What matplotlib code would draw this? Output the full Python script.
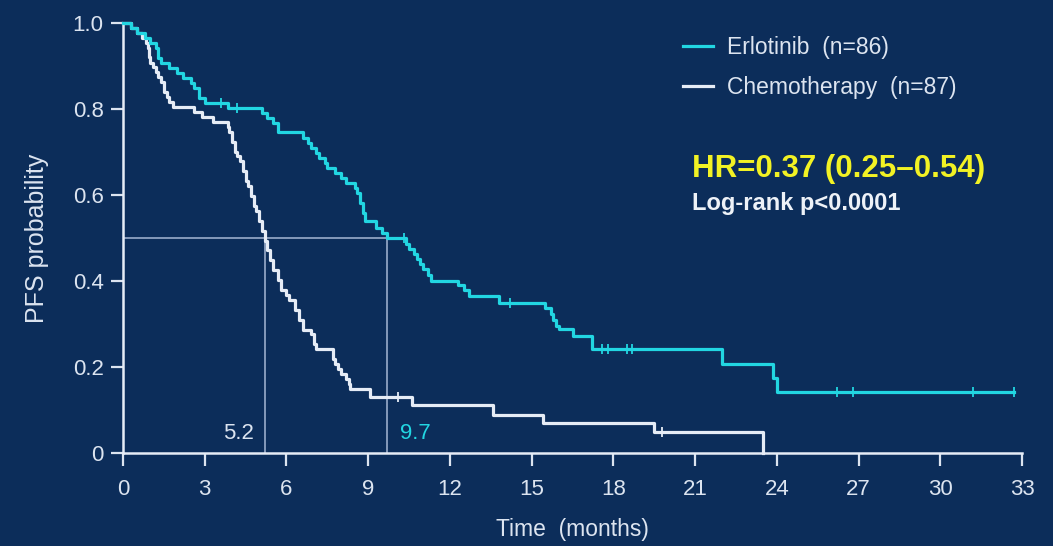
import numpy as np
import matplotlib
matplotlib.use("Agg")
import matplotlib.pyplot as plt

# Kaplan-Meier steps (months, PFS after the drop)
erl_times = [0.0, 0.3, 0.5, 0.8, 1.0, 1.2, 1.3, 1.4, 1.7, 2.0, 2.2, 2.5, 2.6, 2.8, 3.0, 3.85,
             5.1, 5.3, 5.5, 5.7, 6.6, 6.8, 6.9, 7.1, 7.2, 7.4, 7.5, 7.8, 8.0, 8.2, 8.5, 8.6,
             8.7, 8.8, 8.9, 9.3, 9.5, 9.7, 10.4, 10.5, 10.7, 10.8, 10.9, 11.0, 11.2, 11.3,
             12.3, 12.5, 12.7, 13.8, 15.5, 15.7, 15.8, 15.9, 16.0, 16.5, 17.2, 22.0, 23.85,
             24.0, 32.7]
erl_surv = [1.0, 0.988, 0.977, 0.965, 0.953, 0.942, 0.918, 0.907, 0.895, 0.884, 0.872, 0.860,
            0.849, 0.826, 0.814, 0.802, 0.790, 0.779, 0.767, 0.746, 0.733, 0.721, 0.709, 0.698,
            0.686, 0.674, 0.663, 0.651, 0.640, 0.628, 0.616, 0.605, 0.581, 0.558, 0.540, 0.523,
            0.511, 0.499, 0.487, 0.475, 0.463, 0.451, 0.439, 0.427, 0.415, 0.400, 0.390, 0.378,
            0.364, 0.350, 0.338, 0.324, 0.310, 0.296, 0.288, 0.272, 0.242, 0.208, 0.175, 0.142,
            0.142]
erl_cens = [3.6, 4.2, 10.3, 14.2, 17.6, 17.8, 18.5, 18.7, 26.2, 26.8, 31.2, 32.7]

chemo_times = [0.0, 0.3, 0.5, 0.7, 0.85, 0.9, 0.95, 1.0, 1.1, 1.2, 1.3, 1.4, 1.5, 1.6, 1.7,
               1.85, 2.6, 2.9, 3.3, 3.85, 3.9, 4.0, 4.1, 4.2, 4.3, 4.4, 4.5, 4.6, 4.7, 4.8,
               4.9, 5.0, 5.1, 5.2, 5.3, 5.4, 5.5, 5.7, 5.8, 6.0, 6.1, 6.3, 6.45, 6.6, 6.9, 7.0,
               7.1, 7.7, 7.8, 7.9, 8.0, 8.2, 8.3, 8.35, 9.05, 10.6, 13.6, 15.4, 19.5, 23.5]
chemo_surv = [1.0, 0.989, 0.977, 0.966, 0.954, 0.943, 0.920, 0.908, 0.897, 0.885, 0.874, 0.862,
              0.839, 0.828, 0.816, 0.805, 0.793, 0.782, 0.770, 0.759, 0.747, 0.724, 0.701, 0.690,
              0.678, 0.655, 0.632, 0.621, 0.598, 0.575, 0.563, 0.540, 0.517, 0.494, 0.471, 0.448,
              0.425, 0.402, 0.379, 0.368, 0.356, 0.333, 0.310, 0.287, 0.276, 0.253, 0.241, 0.218,
              0.207, 0.195, 0.184, 0.172, 0.161, 0.149, 0.131, 0.112, 0.089, 0.070, 0.049, 0.0]
chemo_cens = [10.1, 19.8]

medians = [5.2, 9.7]
x_ticks = list(range(0, 34, 3))
y_ticks = [0, 0.2, 0.4, 0.6, 0.8, 1.0]
y_labels = ["0", "0.2", "0.4", "0.6", "0.8", "1.0"]

bg = "#0c2d5a"
cyan = "#22d6e2"
white = "#e6ecf6"
txt = "#dce4f0"
guide = "#8ea2c2"

plt.rcParams["font.family"] = ["Liberation Sans", "DejaVu Sans"]

fig = plt.figure(figsize=(10.53, 5.46), dpi=100, facecolor=bg)
ax = fig.add_axes([123 / 1053, 1 - 453 / 546, 899 / 1053, 430 / 546])
ax.set_facecolor(bg)

# median guide lines
ax.plot([0, medians[1]], [0.5, 0.5], color=guide, lw=1.3, zorder=1)
for m in medians:
    ax.plot([m, m], [0, 0.5], color=guide, lw=1.3, zorder=1)

ax.step(chemo_times, chemo_surv, where="post", color=white, lw=2.3, zorder=3,
        label="Chemotherapy  (n=87)", clip_on=False)
ax.step(erl_times, erl_surv, where="post", color=cyan, lw=2.3, zorder=4,
        label="Erlotinib  (n=86)", clip_on=False)

# censor marks
erl_y = [erl_surv[np.searchsorted(erl_times, c, side="right") - 1] for c in erl_cens]
chemo_y = [chemo_surv[np.searchsorted(chemo_times, c, side="right") - 1] for c in chemo_cens]
ax.plot(erl_cens, erl_y, ls="none", marker="|", ms=7, mew=1.3, color=cyan, zorder=4, clip_on=False)
ax.plot(chemo_cens, chemo_y, ls="none", marker="|", ms=7, mew=1.3, color=white, zorder=3, clip_on=False)

ax.text(medians[0] - 0.4, 0.02, "5.2", color=txt, fontsize=16, ha="right", va="bottom")
ax.text(medians[1] + 0.45, 0.02, "9.7", color=cyan, fontsize=16, ha="left", va="bottom")

ax.set_xlim(0, 33)
ax.set_ylim(0, 1.0)
ax.set_xticks(x_ticks)
ax.set_yticks(y_ticks)
ax.set_yticklabels(y_labels)
ax.tick_params(colors=txt, labelsize=16, length=9, width=1.6)
ax.tick_params(axis="x", pad=10)
ax.tick_params(axis="y", pad=5)
for s in ["top", "right"]:
    ax.spines[s].set_visible(False)
for s in ["left", "bottom"]:
    ax.spines[s].set_color(white)
    ax.spines[s].set_linewidth(1.8)

ax.set_xlabel("Time  (months)", color=txt, fontsize=16.5, labelpad=13)
ax.set_ylabel("PFS probability", color=txt, fontsize=18, labelpad=17)

h, l = ax.get_legend_handles_labels()
leg = ax.legend(h[::-1], l[::-1], loc="upper left", bbox_to_anchor=(683 / 1053, 1 - 36 / 546),
                bbox_transform=fig.transFigure, frameon=False, fontsize=16.5, handlelength=1.3,
                handletextpad=0.62, labelspacing=0.75, borderpad=0, borderaxespad=0)
for t in leg.get_texts():
    t.set_color(txt)

fig.text(692 / 1053, 1 - 177 / 546, "HR=0.37 (0.25\u20130.54)", color="#f2f224", fontsize=22.5,
         fontweight="bold", ha="left", va="baseline")
fig.text(692 / 1053, 1 - 210 / 546, "Log-rank p<0.0001", color="#eef2f8", fontsize=17,
         fontweight="bold", ha="left", va="baseline")

fig.savefig("out.png", dpi=100, facecolor=bg)
